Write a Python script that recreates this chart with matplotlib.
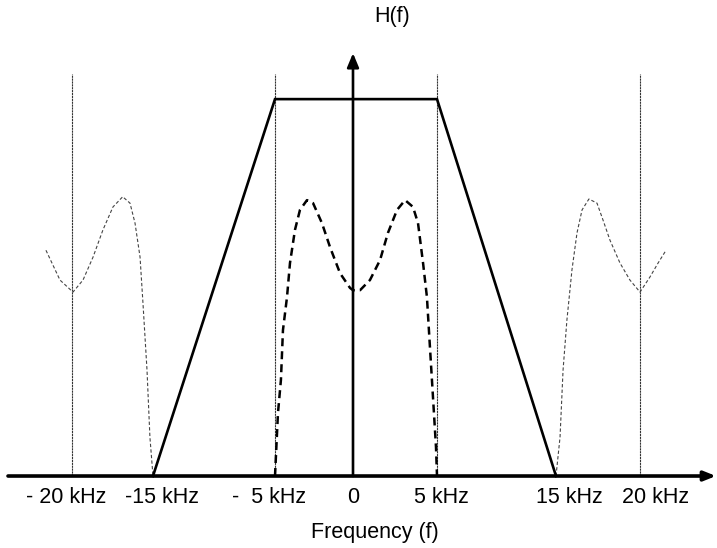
import matplotlib.pyplot as plt
import numpy as np

plt.rcParams['font.family'] = ['Liberation Sans', 'DejaVu Sans']

# passband of the filter (kHz, relative gain)
trap_f = [-15, -5, 5, 15]
trap_h = [0, 1, 1, 0]

# message spectrum around 0
msg_f = [-5.0, -4.81, -4.62, -4.49, -4.23, -4.04, -3.72, -3.40, -2.95, -2.56,
         -1.99, -1.47, -0.83, -0.19, 0.0, 0.42, 1.01, 1.61, 2.08, 2.62, 3.10,
         3.57, 3.87, 4.17, 4.40, 4.58, 4.76, 4.94, 5.0]
msg_h = [0.0, 0.167, 0.255, 0.387, 0.475, 0.565, 0.653, 0.706, 0.732, 0.724,
         0.671, 0.607, 0.538, 0.499, 0.493, 0.493, 0.520, 0.573, 0.645, 0.706,
         0.732, 0.714, 0.671, 0.565, 0.475, 0.342, 0.210, 0.077, 0.0]

# aliased copies around +-20 kHz
left_f = [-21.86, -20.86, -19.94, -19.32, -18.70, -18.09, -17.47, -16.87,
          -16.42, -16.11, -15.80, -15.62, -15.37, -15.19, -15.0]
left_h = [0.599, 0.520, 0.488, 0.520, 0.581, 0.653, 0.714, 0.741,
          0.724, 0.671, 0.581, 0.459, 0.281, 0.103, 0.0]
right_f = [15.0, 15.24, 15.42, 15.65, 15.95, 16.25, 16.55, 16.96, 17.44,
           17.80, 18.21, 18.81, 19.40, 20.0, 20.71, 21.29, 21.86]
right_h = [0.0, 0.103, 0.281, 0.414, 0.547, 0.645, 0.706, 0.735, 0.724,
           0.679, 0.626, 0.565, 0.520, 0.488, 0.528, 0.565, 0.599]

guide_f = [-20, -5, 5, 20]
tick_pos = [-20.4, -14.3, -5.45, 0, 5.4, 15.8, 21.1]
tick_labels = ['- 20 kHz', '-15 kHz', '-  5 kHz', '0', '5 kHz', '15 kHz', '20 kHz']

# the drawing is not to scale: piecewise linear frequency axis
knot_f = [-30, -20, -15, -5, 0, 5, 15, 20, 30]
knot_px = [-68, 72, 153, 275, 353, 437, 556, 640, 780]


def fwd(x):
    return np.interp(x, knot_f, knot_px)


def inv(p):
    return np.interp(p, knot_px, knot_f)


fig = plt.figure(figsize=(7.17, 5.48), dpi=100)
ax = fig.add_axes([0, 0, 1, 1])
ax.set_xscale('function', functions=(fwd, inv))
ax.set_xlim(inv(0), inv(717))
ax.set_ylim(-0.191, 1.263)
ax.axis('off')

ax.vlines(guide_f, 0, 1.066, color='#333333', lw=0.8, linestyles=(0, (2, 0.6)))
ax.plot(left_f, left_h, color='#444444', lw=0.8, ls=(0, (3, 2)))
ax.plot(right_f, right_h, color='#444444', lw=0.8, ls=(0, (3, 2)))
ax.plot(msg_f, msg_h, color='black', lw=1.8, ls=(0, (3.2, 2)))
ax.plot(trap_f, trap_h, color='black', lw=1.9, solid_joinstyle='miter')

# axes with arrow heads
ax.annotate('', xy=(inv(716), 0), xytext=(inv(8), 0),
            arrowprops=dict(arrowstyle='-|>,head_length=0.5,head_width=0.2',
                            lw=2.6, color='black', shrinkA=0, shrinkB=0,
                            mutation_scale=14))
ax.annotate('', xy=(0, 1.122), xytext=(0, 0),
            arrowprops=dict(arrowstyle='-|>,head_length=0.6,head_width=0.25',
                            lw=1.9, color='black', shrinkA=0, shrinkB=0,
                            mutation_scale=14))

for x, lab in zip(tick_pos, tick_labels):
    ax.text(x, -0.058, lab, ha='center', va='center', fontsize=15.5)
ax.text(1.3, -0.149, 'Frequency (f)', ha='center', va='center', fontsize=15.5)
ax.text(2.3, 1.218, 'H(f)', ha='center', va='center', fontsize=15.5)

plt.savefig('out.png', dpi=100)
